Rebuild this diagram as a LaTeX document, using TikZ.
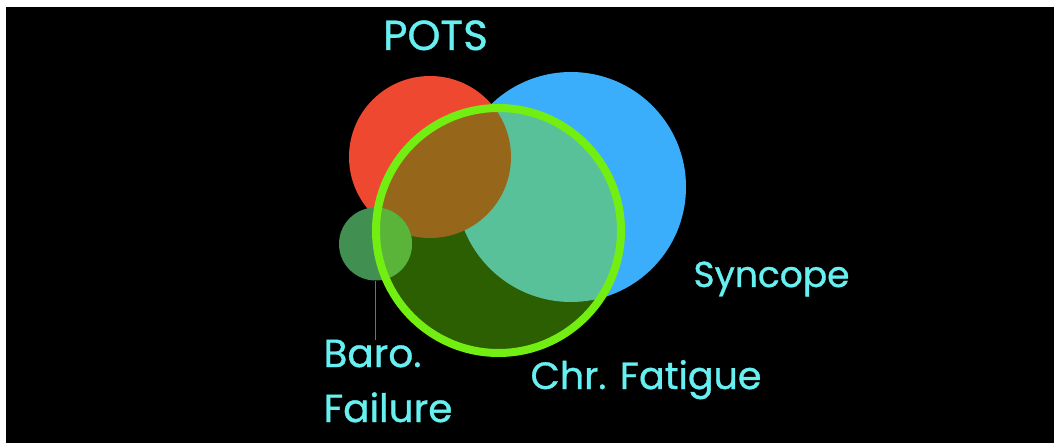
\documentclass[tikz,border=0pt]{standalone}
\usepackage{fontspec}
\setmainfont{Poppins}
\newfontfamily\labelfont{Poppins}[FakeBold=0.9]
\begin{document}
\begin{tikzpicture}[x=1pt,y=-1pt,
  lbl/.style={text=labelcyan,font=\labelfont\fontsize{36}{40}\selectfont,anchor=base,inner sep=0pt}]
\definecolor{labelcyan}{RGB}{102,240,242}
\definecolor{potsred}{RGB}{238,73,48}
\definecolor{syncblue}{RGB}{59,174,251}
\definecolor{fatdark}{RGB}{44,94,2}
\definecolor{fatbrown}{RGB}{150,103,26}
\definecolor{fatteal}{RGB}{89,193,153}
\definecolor{ringgreen}{RGB}{114,238,18}
\definecolor{baroout}{RGB}{66,143,82}
\definecolor{baroin}{RGB}{90,180,58}
% page and black panel
\useasboundingbox (0,0) rectangle (1054,443);
\fill[white] (0,0) rectangle (1054,443);
\fill[black] (6,7) rectangle (1054,443);
% circle centres
\coordinate (cpots) at (430,157);
\coordinate (csync) at (571,187);
\coordinate (cfat) at (498.5,230.5);
\coordinate (cbaro) at (375.5,244);
% outer sets
\fill[syncblue] (csync) circle[radius=115pt];
\fill[potsred] (cpots) circle[radius=81pt];
% chronic fatigue disc and its overlaps
\fill[fatdark] (cfat) circle[radius=122.5pt];
\begin{scope}
  \clip (cfat) circle[radius=122.5pt];
  \fill[fatteal] (csync) circle[radius=115pt];
  \fill[fatbrown] (cpots) circle[radius=81pt];
\end{scope}
% baroreflex failure
\node[circle,fill=baroout,minimum size=73pt,inner sep=0pt] (baro) at (cbaro) {};
\begin{scope}
  \clip (cfat) circle[radius=122.5pt];
  \fill[baroin] (cbaro) circle[radius=36.5pt];
\end{scope}
\coordinate (baroend) at (375.5,340);
\draw[baroout,line width=1pt] (baro.south) -- (baroend);
% ring of the chronic fatigue set
\draw[ringgreen,line width=8pt] (cfat) circle[radius=122.5pt];
% labels
\node[lbl,font=\labelfont\fontsize{42}{46}\selectfont] (pots) at (435.5,50) {POTS};
\node[lbl] (sync) at (771.5,287) {Syncope};
\node[lbl,font=\labelfont\fontsize{38}{42}\selectfont] (fat) at (646,389) {Chr. Fatigue};
\node[lbl,font=\labelfont\fontsize{39}{43}\selectfont] (barol) at (372.5,367) {Baro.};
\node[lbl,font=\labelfont\fontsize{39}{43}\selectfont] (fail) at (388,422) {Failure};
\end{tikzpicture}
\end{document}
